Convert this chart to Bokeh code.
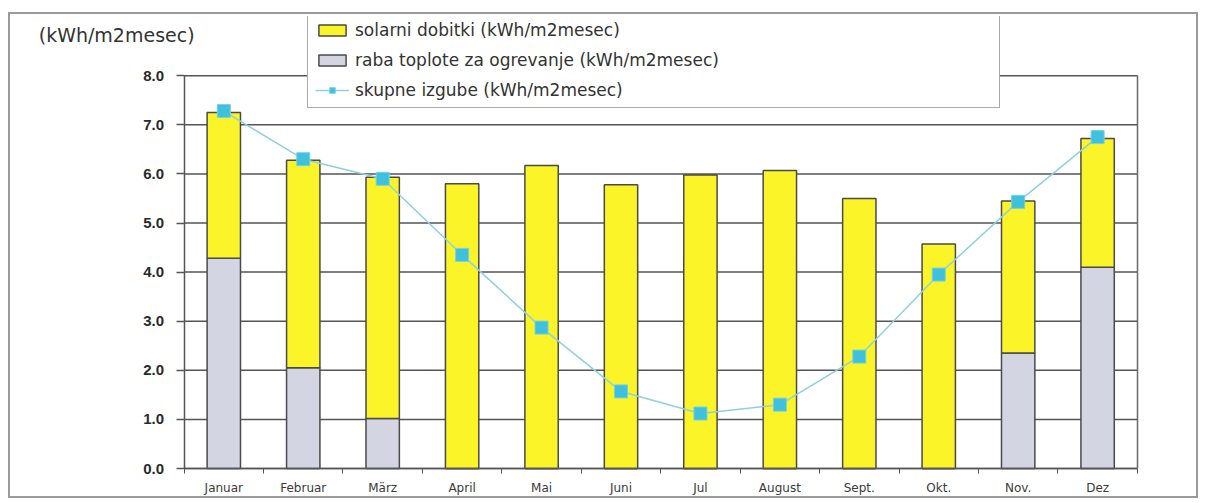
from bokeh.plotting import figure
from bokeh.models import (ColumnDataSource, FixedTicker, NumeralTickFormatter, Legend,
                          LegendItem, Label, Range1d, LinearAxis)
from bokeh.embed import file_html
from bokeh.resources import INLINE

months = ["Januar", "Februar", "März", "April", "Mai", "Juni", "Jul", "August",
          "Sept.", "Okt.", "Nov.", "Dez"]
heating = [4.28, 2.05, 1.02, 0, 0, 0, 0, 0, 0, 0, 2.35, 4.10]
solar = [2.97, 4.23, 4.91, 5.80, 6.17, 5.78, 5.98, 6.07, 5.50, 4.57, 3.10, 2.62]
losses = [7.28, 6.30, 5.90, 4.35, 2.87, 1.57, 1.12, 1.30, 2.28, 3.95, 5.43, 6.75]
y_ticks = [0, 1, 2, 3, 4, 5, 6, 7, 8]
unit_label = "(kWh/m2mesec)"
legend_labels = ["solarni dobitki (kWh/m2mesec)",
                 "raba toplote za ogrevanje (kWh/m2mesec)",
                 "skupne izgube (kWh/m2mesec)"]

n = len(months)
x = [i + 0.5 for i in range(n)]
top = [h + s for h, s in zip(heating, solar)]
src = ColumnDataSource(dict(x=x, heating=heating, top=top, losses=losses))
grid_src = ColumnDataSource(dict(y=y_ticks, x0=[0] * len(y_ticks), x1=[n] * len(y_ticks)))

FONT = "Liberation Sans"
WIDE = "DejaVu Sans"
GRID = "#555555"

p = figure(width=1190, height=486, output_backend="svg", toolbar_location=None,
           x_range=Range1d(-2.16, 12.77), y_range=Range1d(-0.611, 9.206),
           min_border_left=2, min_border_right=2, min_border_top=2,
           min_border_bottom=2, margin=(12, 0, 0, 8))
p.styles = {"border": "2px solid #9a9a9a"}
p.background_fill_color = "white"
p.border_fill_color = "white"
p.outline_line_color = None

# horizontal grid lines limited to the category span
p.xgrid.grid_line_color = None
p.ygrid.grid_line_color = None
p.segment(x0="x0", x1="x1", y0="y", y1="y", source=grid_src,
          line_color=GRID, line_width=1.5)

# bars
r_heat = p.vbar(x="x", bottom=0, top="heating", width=0.42, source=src,
                fill_color="#d3d5e2", line_color="#4a4a4a", line_width=1.5)
r_sol = p.vbar(x="x", bottom="heating", top="top", width=0.42, source=src,
               fill_color="#faf428", line_color="#4a4a4a", line_width=1.5)
# losses line
r_line = p.line(x="x", y="losses", source=src, line_color="#8fd0de", line_width=1.5)
r_pts = p.scatter(x="x", y="losses", source=src, marker="square", size=13,
                  fill_color="#3fc0dc", line_color="#74d2e6", line_width=1)

# y axis fixed at x = 0
yax = p.yaxis[0]
yax.fixed_location = 0
yax.bounds = (0, 8)
yax.ticker = FixedTicker(ticks=y_ticks)
yax.formatter = NumeralTickFormatter(format="0.0")
yax.major_label_text_font = FONT
yax.major_label_text_font_style = "bold"
yax.major_label_text_font_size = "15px"
yax.major_label_text_color = "#2a2a2a"
yax.major_tick_out = 8
yax.major_tick_in = 0
yax.minor_tick_line_color = None
yax.major_label_standoff = 12
yax.axis_line_color = GRID
yax.axis_line_width = 1.5
yax.major_tick_line_color = GRID
yax.major_tick_line_width = 1.5

# right frame edge
rax = LinearAxis(fixed_location=n, bounds=(0, 8), ticker=FixedTicker(ticks=[]),
                 major_label_text_font_size="0px", axis_line_color="#6a6a6a",
                 axis_line_width=1.5, major_tick_line_color=None,
                 minor_tick_line_color=None)
p.add_layout(rax, "right")

# x axis fixed at y = 0
xax = p.xaxis[0]
xax.fixed_location = 0
xax.bounds = (0, n)
xax.ticker = FixedTicker(ticks=x, minor_ticks=list(range(n + 1)))
xax.major_label_overrides = {xi: m for xi, m in zip(x, months)}
xax.major_tick_line_color = None
xax.major_tick_out = 0
xax.minor_tick_out = 5
xax.minor_tick_in = 0
xax.minor_tick_line_color = GRID
xax.major_label_text_font = WIDE
xax.major_label_text_font_size = "12px"
xax.major_label_text_color = "#3a3a3a"
xax.major_label_standoff = 7
xax.axis_line_color = GRID
xax.axis_line_width = 1.5

# unit label
p.add_layout(Label(x=-1.83, y=8.82, text=unit_label, text_font=WIDE,
                   text_font_size="19px", text_color="#333333",
                   text_baseline="middle", text_align="left"))

legend = Legend(items=[LegendItem(label=legend_labels[0], renderers=[r_sol]),
                       LegendItem(label=legend_labels[1], renderers=[r_heat]),
                       LegendItem(label=legend_labels[2], renderers=[r_line, r_pts])],
                location=(295, 390), orientation="vertical",
                label_text_font=WIDE, label_text_font_size="17px",
                label_text_color="#333333", label_width=637, label_height=18,
                glyph_width=34, glyph_height=14, spacing=10, padding=7,
                margin=0, label_standoff=6,
                border_line_color="#555555", border_line_width=1.5,
                background_fill_color="white", background_fill_alpha=1.0)
p.add_layout(legend, "center")

open("out.html", "w").write(file_html(p, INLINE))
